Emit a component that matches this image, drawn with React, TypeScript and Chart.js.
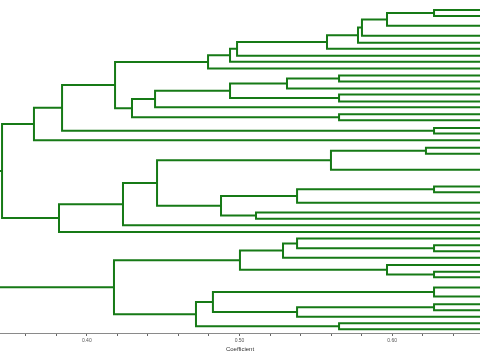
import React, { useEffect, useRef } from "react";
import { Chart, registerables } from "chart.js";

Chart.register(...registerables);

// Leaf positions (vertical order, chart units) in the visible part of the dendrogram
const leafY = [
  10, 16, 26, 36, 43, 49, 56, 62, 69, 76, 82, 89, 95, 102, 108, 115, 121, 128.7, 134.3, 141,
  148.7, 154.7, 170.7, 187.7, 193.3, 204, 213.7, 220, 226.7, 233.3, 240, 246.7, 252.7, 259.3,
  266.7, 273.3, 279, 289.3, 298.3, 306, 312, 318.7, 325.3, 331.3,
];
// Coefficient of a leaf (similarity with itself)
const leafCoefficient = 1.0;

// Merges: child indices (leaf i < n, merge k => n + k) and the coefficient they join at
const mergeLeft = [
  0, 44, 45, 46, 47, 48, 49, 50, 9, 52, 12, 53, 55, 15, 56, 51, 17, 59, 61, 20, 63, 23, 65, 26,
  66, 64, 69, 70, 62, 31, 30, 74, 35, 34, 75, 37, 39, 80, 79, 42, 82, 78, 72,
];
const mergeRight = [
  1, 2, 3, 4, 5, 6, 7, 8, 10, 11, 13, 54, 14, 16, 57, 58, 18, 60, 19, 21, 22, 24, 25, 27, 67,
  68, 28, 29, 71, 32, 73, 33, 36, 76, 77, 38, 40, 41, 81, 43, 83, 84, 85,
];
const mergeCoefficient = [
  0.6274, 0.5966, 0.5802, 0.5776, 0.5573, 0.4984, 0.4938, 0.4794, 0.5652, 0.5311, 0.5652,
  0.4938, 0.4447, 0.5652, 0.4296, 0.4185, 0.6274, 0.3838, 0.3654, 0.6221, 0.5599, 0.6274,
  0.5377, 0.5108, 0.4879, 0.446, 0.4237, 0.3818, 0.3445, 0.6274, 0.5377, 0.5285, 0.6274,
  0.5966, 0.5003, 0.6274, 0.6274, 0.5377, 0.4826, 0.5652, 0.4715, 0.4178, 0.3,
];

// Axis
const xMin = 0.34316;
const xMax = 0.6575;
const xTickValues = [0.36, 0.38, 0.4, 0.42, 0.44, 0.46, 0.48, 0.5, 0.52, 0.54, 0.56, 0.58, 0.6, 0.62, 0.64];
const xMajorValues = [0.4, 0.5, 0.6];
const xMajorLabels = ["0.40", "0.50", "0.60"];
const xTitle = "Coefficient";

const LINE_COLOR = "#167a16";

function buildDatasets() {
  const nodeX: number[] = leafY.map(() => leafCoefficient);
  const nodeY: number[] = [...leafY];
  const datasets: any[] = [];
  for (let k = 0; k < mergeCoefficient.length; k++) {
    const a = mergeLeft[k];
    const b = mergeRight[k];
    const h = mergeCoefficient[k];
    datasets.push({
      data: [
        { x: nodeX[a], y: nodeY[a] },
        { x: h, y: nodeY[a] },
        { x: h, y: nodeY[b] },
        { x: nodeX[b], y: nodeY[b] },
      ],
      showLine: true,
      borderColor: LINE_COLOR,
      backgroundColor: LINE_COLOR,
      borderWidth: 2,
      pointRadius: 0,
      pointHoverRadius: 0,
      tension: 0,
      borderJoinStyle: "miter",
      borderCapStyle: "butt",
    });
    nodeX.push(h);
    nodeY.push((nodeY[a] + nodeY[b]) / 2);
  }
  return datasets;
}

export default function App() {
  const ref = useRef<HTMLCanvasElement | null>(null);
  useEffect(() => {
    if (!ref.current) return;
    const chart = new Chart(ref.current, {
      type: "scatter",
      data: { datasets: buildDatasets() },
      options: {
        animation: false,
        responsive: false,
        maintainAspectRatio: false,
        layout: { padding: { left: 0, right: 0, top: 0, bottom: 6.8 } },
        plugins: { legend: { display: false }, tooltip: { enabled: false } },
        scales: {
          x: {
            type: "linear",
            min: xMin,
            max: xMax,
            position: "bottom",
            afterBuildTicks: (scale: any) => {
              scale.ticks = xTickValues.map((v) => ({ value: v }));
            },
            border: { display: true, color: "#8a8a8a", width: 1 },
            grid: {
              display: true,
              drawOnChartArea: false,
              drawTicks: true,
              tickLength: 3,
              color: "#666666",
            },
            ticks: {
              autoSkip: false,
              maxRotation: 0,
              minRotation: 0,
              padding: 2,
              color: "#555555",
              font: { family: "Liberation Sans", size: 5 },
              callback: (value: any) => {
                const i = xMajorValues.findIndex((m) => Math.abs(m - Number(value)) < 1e-6);
                return i >= 0 ? xMajorLabels[i] : "";
              },
            },
            title: {
              display: true,
              text: xTitle,
              color: "#333333",
              padding: { top: 0, bottom: 0 },
              font: { family: "Liberation Sans", size: 6 },
            },
          },
          y: {
            type: "linear",
            min: 0,
            max: 335,
            reverse: true,
            display: false,
          },
        },
      },
    });
    return () => chart.destroy();
  }, []);
  return (
    <div style={{ position: "fixed", left: 0, top: 0, width: 480, height: 360, background: "#fff" }}>
      <canvas ref={ref} width={480} height={360} style={{ display: "block" }} />
    </div>
  );
}
